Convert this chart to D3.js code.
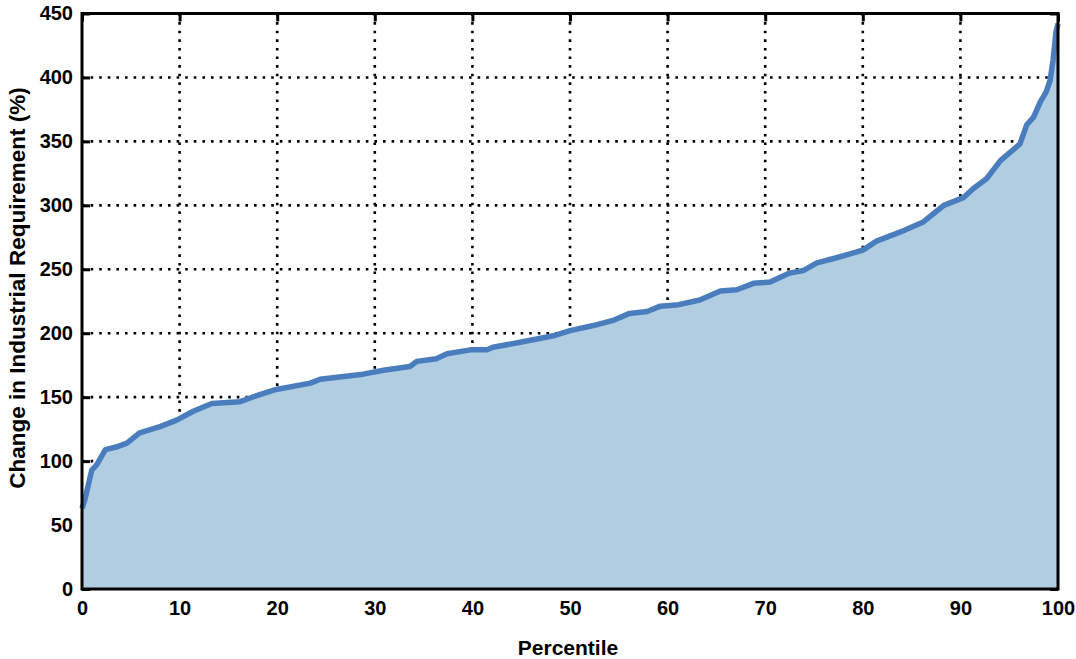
<!DOCTYPE html>
<html>
<head>
<meta charset="utf-8">
<script src="https://cdn.jsdelivr.net/npm/d3@7"></script>
<style>
  html, body { margin: 0; padding: 0; background: #fff; }
  svg { display: block; }
  text { font-family: "Liberation Sans", Arial, sans-serif; font-weight: bold; fill: #000; }
</style>
</head>
<body>
<svg id="chart" width="1076" height="659"></svg>
<script>
// Sorted distribution of change in industrial requirement, by percentile
const percentile = [0, 0.3, 1.0, 1.5, 2.4, 3.5, 4.6, 5.9, 8.0, 9.7, 11.4, 13.3, 16.2, 18.2, 19.9,
  23.4, 24.4, 28.8, 30.9, 33.6, 34.3, 36.3, 37.4, 39.8, 41.5, 42.1, 44.9, 48.3, 50.0, 52.4,
  54.4, 56.1, 57.9, 59.2, 60.9, 63.3, 65.4, 67.1, 68.8, 70.5, 72.5, 73.9, 75.3, 77.3, 78.7,
  80.0, 81.4, 83.8, 86.2, 88.3, 90.3, 91.3, 92.7, 94.1, 96.1, 96.8, 97.5, 98.2, 98.8, 99.2,
  99.5, 99.8, 100];
const changePct = [63, 70, 93, 97, 109, 111, 114, 122, 127, 132, 139, 145, 146.5, 152, 156,
  161, 164, 168, 171, 174, 178, 180, 184, 187, 187, 189, 193, 198, 202, 206,
  210, 215.5, 217, 221, 222, 226, 233, 234, 239, 240, 247, 249, 255, 259, 262,
  265, 272, 279, 287, 300, 306, 313, 321, 335, 348, 363, 369, 381, 389, 398,
  414, 436, 442];

const xTicks = [0, 10, 20, 30, 40, 50, 60, 70, 80, 90, 100];
const yTicks = [0, 50, 100, 150, 200, 250, 300, 350, 400, 450];

const xTitle = "Percentile";
const yTitle = "Change in Industrial Requirement (%)";

const W = 1076, H = 659;
const margin = { top: 13.5, right: 18, bottom: 70, left: 82 };
const iw = W - margin.left - margin.right;
const ih = H - margin.top - margin.bottom;

const data = percentile.map((p, i) => ({ p, v: changePct[i] }));

const svg = d3.select("#chart");
const g = svg.append("g").attr("transform", `translate(${margin.left},${margin.top})`);

const x = d3.scaleLinear().domain([0, 100]).range([0, iw]);
const y = d3.scaleLinear().domain([0, 450]).range([ih, 0]);

// dotted grid
const grid = g.append("g").attr("stroke", "#000").attr("stroke-width", 2.6)
  .attr("stroke-dasharray", "2.6,6").attr("fill", "none");
xTicks.slice(1, -1).forEach(t => {
  grid.append("line").attr("x1", x(t)).attr("x2", x(t)).attr("y1", 0).attr("y2", ih);
});
yTicks.slice(1, -1).forEach(t => {
  grid.append("line").attr("x1", 0).attr("x2", iw).attr("y1", y(t)).attr("y2", y(t));
});

// inward ticks on all four sides
const tl = 8;
g.append("g").call(d3.axisTop(x).tickValues(xTicks).tickSize(-tl).tickFormat(""))
  .call(a => a.select(".domain").remove())
  .selectAll("line").attr("stroke-width", 3);
g.append("g").attr("transform", `translate(${iw},0)`)
  .call(d3.axisRight(y).tickValues(yTicks).tickSize(-tl).tickFormat(""))
  .call(a => a.select(".domain").remove())
  .selectAll("line").attr("stroke-width", 3);
g.append("g").call(d3.axisLeft(y).tickValues(yTicks).tickSize(-tl).tickFormat(""))
  .call(a => a.select(".domain").remove())
  .selectAll("line").attr("stroke-width", 3);

// filled area under the distribution
const area = d3.area().x(d => x(d.p)).y0(y(0)).y1(d => y(d.v));
g.append("path").datum(data).attr("d", area).attr("fill", "#b1cde2");

const line = d3.line().x(d => x(d.p)).y(d => y(d.v));
g.append("path").datum(data).attr("d", line)
  .attr("fill", "none").attr("stroke", "#4a7dbd").attr("stroke-width", 5.5)
  .attr("stroke-linejoin", "round");

// frame
g.append("rect").attr("x", 0).attr("y", 0).attr("width", iw).attr("height", ih)
  .attr("fill", "none").attr("stroke", "#000").attr("stroke-width", 3);

// tick labels
const xAxis = g.append("g").attr("transform", `translate(0,${ih})`)
  .call(d3.axisBottom(x).tickValues(xTicks).tickSize(0).tickPadding(12));
xAxis.select(".domain").remove();
xAxis.selectAll("text").style("font-size", "20px").style("font-weight", "bold")
  .style("font-family", "'Liberation Sans', Arial, sans-serif").attr("fill", "#000");

const yAxis = g.append("g")
  .call(d3.axisLeft(y).tickValues(yTicks).tickSize(0).tickPadding(9));
yAxis.select(".domain").remove();
yAxis.selectAll("text").style("font-size", "20px").style("font-weight", "bold")
  .style("font-family", "'Liberation Sans', Arial, sans-serif").attr("fill", "#000");

// axis titles
svg.append("text").attr("x", margin.left + iw / 2 - 2).attr("y", 655)
  .attr("text-anchor", "middle").style("font-size", "21px").text(xTitle);
svg.append("text")
  .attr("transform", `translate(25,288) rotate(-90)`)
  .attr("text-anchor", "middle").style("font-size", "22.5px").text(yTitle);
</script>
</body>
</html>
